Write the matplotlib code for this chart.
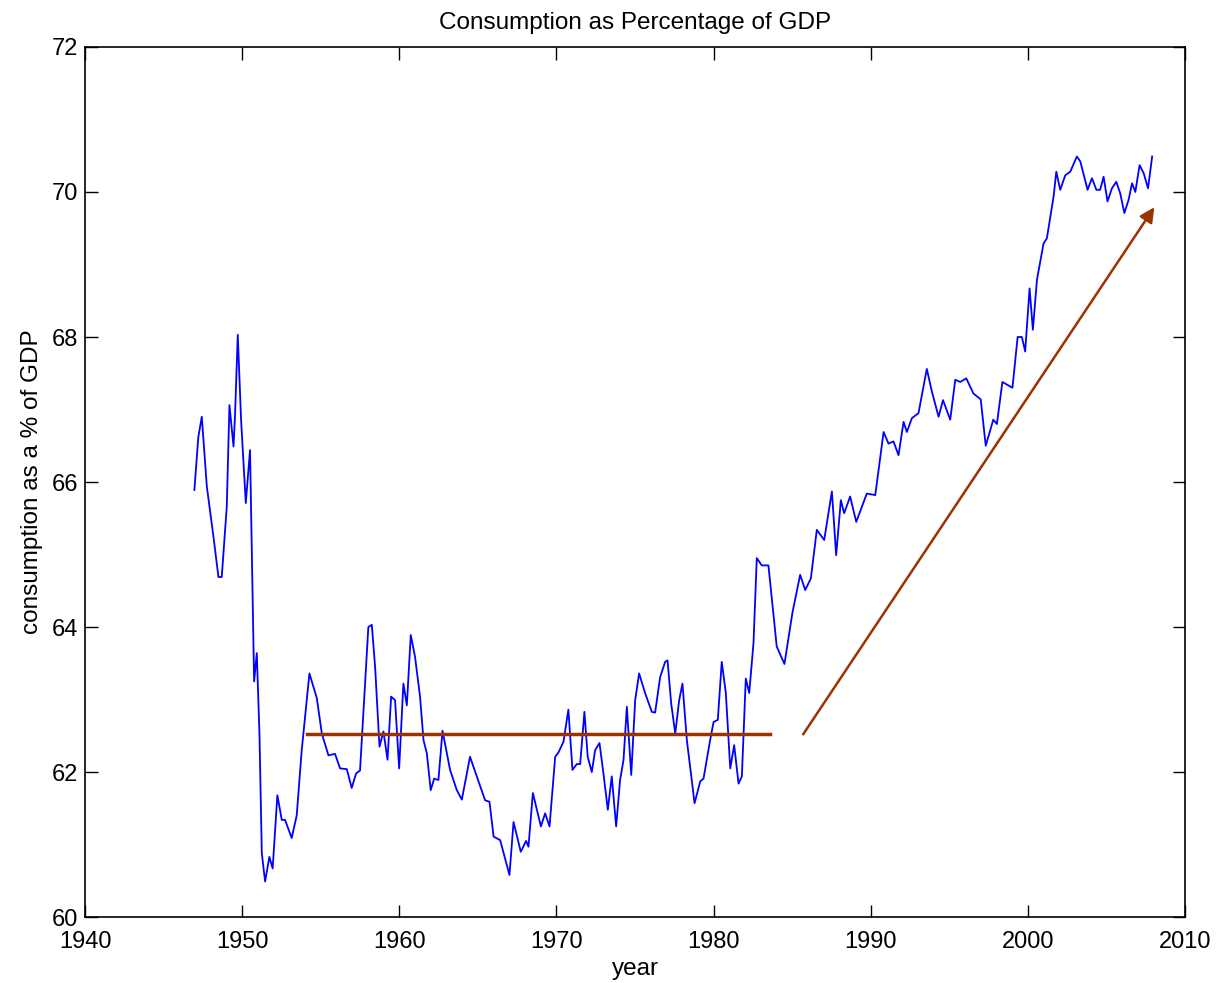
import matplotlib
matplotlib.use("Agg")
import matplotlib.pyplot as plt

# consumption share of GDP (roughly quarterly)
years = [
    1946.96, 1947.21, 1947.43, 1947.75, 1948.17, 1948.49, 1948.70, 1949.02, 1949.19, 1949.45,
    1949.55, 1949.72, 1949.93, 1950.23, 1950.50, 1950.76, 1950.93, 1951.10, 1951.25, 1951.46,
    1951.73, 1951.94, 1952.24, 1952.52, 1952.73, 1953.15, 1953.47, 1953.79, 1954.28, 1954.75,
    1955.07, 1955.49, 1955.91, 1956.23, 1956.66, 1956.97, 1957.25, 1957.50, 1957.82, 1958.03,
    1958.25, 1958.46, 1958.74, 1958.99, 1959.25, 1959.48, 1959.73, 1959.99, 1960.26, 1960.48,
    1960.73, 1961.00, 1961.32, 1961.54, 1961.75, 1962.00, 1962.22, 1962.49, 1962.75, 1963.23,
    1963.66, 1963.98, 1964.50, 1965.04, 1965.46, 1965.74, 1966.00, 1966.42, 1967.01, 1967.27,
    1967.73, 1968.07, 1968.22, 1968.50, 1969.01, 1969.28, 1969.56, 1969.92, 1970.13, 1970.45,
    1970.76, 1971.02, 1971.30, 1971.51, 1971.78, 1971.99, 1972.25, 1972.46, 1972.74, 1972.99,
    1973.27, 1973.52, 1973.80, 1974.05, 1974.27, 1974.48, 1974.76, 1975.01, 1975.26, 1975.64,
    1976.07, 1976.28, 1976.60, 1976.92, 1977.07, 1977.30, 1977.56, 1977.81, 1978.02, 1978.30,
    1978.79, 1979.15, 1979.36, 1979.78, 1980.00, 1980.27, 1980.52, 1980.78, 1981.06, 1981.31,
    1981.59, 1981.80, 1982.05, 1982.27, 1982.54, 1982.75, 1983.07, 1983.49, 1984.02, 1984.51,
    1985.02, 1985.51, 1985.83, 1986.19, 1986.57, 1987.04, 1987.53, 1987.80, 1988.10, 1988.31,
    1988.69, 1989.08, 1989.75, 1990.29, 1990.82, 1991.13, 1991.45, 1991.77, 1992.09, 1992.30,
    1992.62, 1993.04, 1993.57, 1993.89, 1994.32, 1994.60, 1995.06, 1995.38, 1995.70, 1996.08,
    1996.54, 1997.00, 1997.32, 1997.80, 1998.03, 1998.38, 1999.02, 1999.35, 1999.62, 1999.83,
    2000.11, 2000.32, 2000.58, 2001.00, 2001.21, 2001.64, 2001.81, 2002.06, 2002.38, 2002.70,
    2003.12, 2003.34, 2003.80, 2004.08, 2004.36, 2004.60, 2004.82, 2005.07, 2005.35, 2005.63,
    2005.88, 2006.14, 2006.41, 2006.63, 2006.84, 2007.11, 2007.37, 2007.65, 2007.91,
]
consumption = [
    65.89, 66.62, 66.90, 65.94, 65.25, 64.69, 64.69, 65.66, 67.06, 66.49,
    66.95, 68.03, 66.86, 65.71, 66.44, 63.25, 63.64, 62.53, 60.88, 60.49,
    60.83, 60.67, 61.68, 61.34, 61.34, 61.09, 61.40, 62.30, 63.36, 63.02,
    62.53, 62.23, 62.25, 62.05, 62.04, 61.78, 61.98, 62.02, 63.22, 64.00,
    64.03, 63.45, 62.35, 62.56, 62.17, 63.04, 62.99, 62.05, 63.22, 62.92,
    63.89, 63.59, 63.04, 62.44, 62.26, 61.75, 61.91, 61.89, 62.57, 62.03,
    61.75, 61.62, 62.21, 61.87, 61.61, 61.59, 61.11, 61.06, 60.58, 61.31,
    60.90, 61.05, 60.97, 61.71, 61.25, 61.43, 61.25, 62.21, 62.27, 62.42,
    62.86, 62.03, 62.11, 62.11, 62.83, 62.21, 62.00, 62.30, 62.40, 61.98,
    61.48, 61.94, 61.25, 61.89, 62.17, 62.90, 61.96, 62.99, 63.36, 63.09,
    62.83, 62.82, 63.31, 63.52, 63.54, 62.95, 62.53, 62.99, 63.22, 62.44,
    61.57, 61.87, 61.91, 62.44, 62.69, 62.72, 63.52, 63.09, 62.05, 62.37,
    61.84, 61.94, 63.29, 63.09, 63.78, 64.95, 64.85, 64.85, 63.73, 63.49,
    64.20, 64.72, 64.51, 64.67, 65.34, 65.20, 65.87, 64.99, 65.75, 65.57,
    65.80, 65.45, 65.84, 65.82, 66.69, 66.53, 66.56, 66.37, 66.83, 66.69,
    66.88, 66.95, 67.56, 67.25, 66.90, 67.13, 66.86, 67.41, 67.38, 67.43,
    67.22, 67.14, 66.50, 66.86, 66.80, 67.38, 67.30, 68.00, 68.00, 67.80,
    68.67, 68.10, 68.79, 69.29, 69.36, 69.94, 70.28, 70.03, 70.23, 70.28,
    70.49, 70.42, 70.03, 70.19, 70.03, 70.03, 70.21, 69.87, 70.05, 70.14,
    69.98, 69.71, 69.89, 70.12, 70.00, 70.37, 70.26, 70.05, 70.49,
]

# hand-drawn annotation: flat period, then upward trend
flat_years = [1954.1, 1983.6]
flat_level = 62.52
trend_start = (1985.7, 62.52)
trend_end = (2008.05, 69.79)

xticks = [1940, 1950, 1960, 1970, 1980, 1990, 2000, 2010]
yticks = [60, 62, 64, 66, 68, 70, 72]

plt.rcParams['font.family'] = ['Liberation Sans', 'DejaVu Sans']
brown = '#993300'

fig = plt.figure(figsize=(12.2, 9.83), dpi=100)
ax = fig.add_axes([0.0697, 0.0671, 0.9016, 0.8851])

ax.plot(years, consumption, color='#0000ff', linewidth=1.3)
ax.plot(flat_years, [flat_level, flat_level], color=brown, linewidth=2.5)
ax.annotate('', xy=trend_end, xytext=trend_start,
            arrowprops=dict(arrowstyle='-|>', color=brown, lw=1.8,
                            mutation_scale=22, shrinkA=0, shrinkB=0))

ax.set_xlim(1940, 2010)
ax.set_ylim(60, 72)
ax.set_xticks(xticks)
ax.set_yticks(yticks)
ax.tick_params(direction='in', length=9, width=1, top=True, right=True,
               labelsize=17)
ax.tick_params(axis='x', pad=10)
ax.tick_params(axis='y', pad=5)
for s in ax.spines.values():
    s.set_linewidth(1.2)

ax.set_title('Consumption as Percentage of GDP', fontsize=17.5, pad=13)
ax.set_xlabel('year', fontsize=17.5, labelpad=4)
ax.set_ylabel('consumption as a % of GDP', fontsize=17.5, labelpad=6)

fig.savefig('out.png', dpi=100)
